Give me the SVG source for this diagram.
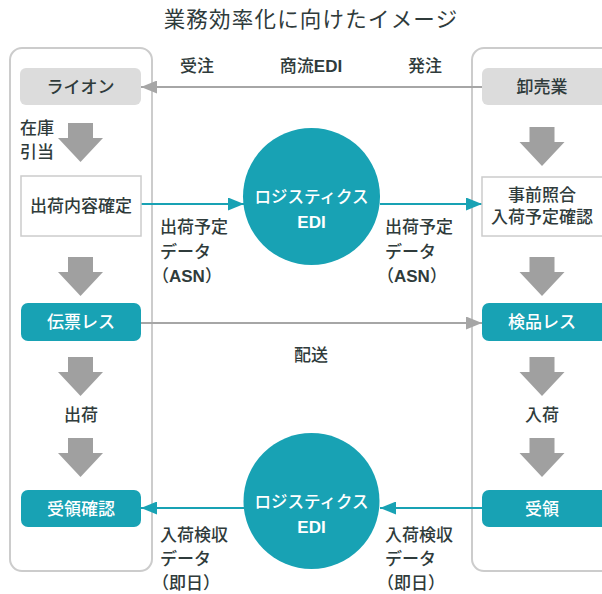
<svg xmlns="http://www.w3.org/2000/svg" width="602" height="594" viewBox="0 0 602 594">
<defs>
<style>
text{font-family:"Liberation Sans","Noto Sans CJK JP",sans-serif;fill:#2f3b3b;font-weight:500;}
.t{font-size:17px;}
.c{text-anchor:middle;dominant-baseline:central;}
.l{dominant-baseline:central;}
.b{font-weight:700;}
.w{fill:#fff;}
.panel{fill:#fff;stroke:#cccccc;stroke-width:2;}
.gbox{fill:#dcdcdc;}
.wbox{fill:#fff;stroke:#cccccc;stroke-width:1.5;}
.tbox{fill:#18a2b4;}
.blk{fill:#a0a0a0;}
.tl{stroke:#18a2b4;stroke-width:2;fill:none;}
.gl{stroke:#a6a6a6;stroke-width:2;fill:none;}
</style>
<path id="blk" d="M-12.5,0 H12.5 V15 H22.5 L0,39 L-22.5,15 H-12.5 Z"/>
<marker id="ta" markerWidth="16" markerHeight="13" refX="16" refY="6.5" orient="auto" markerUnits="userSpaceOnUse"><path d="M0,0 L16,6.5 L0,13 Z" fill="#18a2b4"/></marker>
<marker id="ga" markerWidth="16" markerHeight="13" refX="16" refY="6.5" orient="auto" markerUnits="userSpaceOnUse"><path d="M0,0 L16,6.5 L0,13 Z" fill="#a6a6a6"/></marker>
</defs>
<rect width="602" height="594" fill="#fff"/>
<text x="311" y="20" class="c" style="font-size:21.5px;letter-spacing:1.2px;font-weight:400">業務効率化に向けたイメージ</text>

<g id="panel-left"><rect class="panel" x="10" y="48" width="142" height="523" rx="12"/></g>
<g id="panel-right"><rect class="panel" x="472" y="48" width="150" height="523" rx="12"/></g>

<g id="connectors">
<line class="gl" x1="482" y1="87" x2="141" y2="87" marker-end="url(#ga)"/>
<line class="gl" x1="141" y1="323" x2="482" y2="323" marker-end="url(#ga)"/>
<line class="tl" x1="141" y1="204" x2="244" y2="204" marker-end="url(#ta)"/>
<line class="tl" x1="380" y1="204" x2="482" y2="204" marker-end="url(#ta)"/>
<line class="tl" x1="482" y1="508" x2="380" y2="508" marker-end="url(#ta)"/>
<line class="tl" x1="244" y1="508" x2="141" y2="508" marker-end="url(#ta)"/>
<use href="#blk" class="blk" x="80.5" y="123"/>
<use href="#blk" class="blk" x="80.5" y="257"/>
<use href="#blk" class="blk" x="80.5" y="357"/>
<use href="#blk" class="blk" x="80.5" y="438"/>
<use href="#blk" class="blk" x="542" y="127"/>
<use href="#blk" class="blk" x="542" y="257"/>
<use href="#blk" class="blk" x="542" y="357"/>
<use href="#blk" class="blk" x="542" y="438"/>
</g>

<g id="labels">
<text class="t c" x="197" y="66">受注</text>
<text class="t c" x="311" y="66">商流<tspan class="b">EDI</tspan></text>
<text class="t c" x="425" y="66">発注</text>
<text class="t l" x="20" y="128">在庫</text>
<text class="t l" x="20" y="152">引当</text>
<text class="t l" x="160" y="227">出荷予定</text>
<text class="t l" x="160" y="252">データ</text>
<text class="t l" x="152" y="276">（<tspan class="b">ASN</tspan>）</text>
<text class="t l" x="385" y="227">出荷予定</text>
<text class="t l" x="385" y="252">データ</text>
<text class="t l" x="377" y="276">（<tspan class="b">ASN</tspan>）</text>
<text class="t c" x="311" y="355">配送</text>
<text class="t l" x="160" y="535">入荷検収</text>
<text class="t l" x="160" y="559">データ</text>
<text class="t l" x="152" y="583">（即日）</text>
<text class="t l" x="385" y="535">入荷検収</text>
<text class="t l" x="385" y="559">データ</text>
<text class="t l" x="377" y="583">（即日）</text>
<text class="t c" x="81" y="415">出荷</text>
<text class="t c" x="542" y="415">入荷</text>
</g>

<g id="node-lion"><rect class="gbox" x="20" y="68" width="121" height="37" rx="6"/><text class="t c" x="80.5" y="87">ライオン</text></g>
<g id="node-wholesale"><rect class="gbox" x="482" y="68" width="130" height="37" rx="6"/><text class="t c" x="542" y="87">卸売業</text></g>
<g id="node-ship-confirm"><rect class="wbox" x="21" y="176" width="120" height="60"/><text class="t c" x="81" y="206">出荷内容確定</text></g>
<g id="node-precheck"><rect class="wbox" x="482" y="177" width="130" height="59"/><text class="t c" x="542" y="195">事前照合</text><text class="t c" x="542" y="217">入荷予定確認</text></g>
<g id="node-ediA"><circle cx="311.5" cy="196.5" r="68.5" fill="#18a2b4"/><text class="c w" style="font-size:16.5px" x="311.5" y="197">ロジスティクス</text><text class="t c w b" x="311.5" y="222">EDI</text></g>
<g id="node-ediB"><circle cx="311.5" cy="501" r="68" fill="#18a2b4"/><text class="c w" style="font-size:16.5px" x="311.5" y="502">ロジスティクス</text><text class="t c w b" x="311.5" y="527">EDI</text></g>
<g id="node-slipless"><rect class="tbox" x="21" y="303" width="120" height="38" rx="7"/><text class="t c w" x="81" y="322">伝票レス</text></g>
<g id="node-inspectless"><rect class="tbox" x="482" y="303" width="130" height="38" rx="7"/><text class="t c w" x="542" y="322">検品レス</text></g>
<g id="node-receipt-confirm"><rect class="tbox" x="21" y="490" width="120" height="37" rx="7"/><text class="t c w" x="81" y="509">受領確認</text></g>
<g id="node-receipt"><rect class="tbox" x="482" y="490" width="130" height="37" rx="7"/><text class="t c w" x="542" y="509">受領</text></g>
</svg>
